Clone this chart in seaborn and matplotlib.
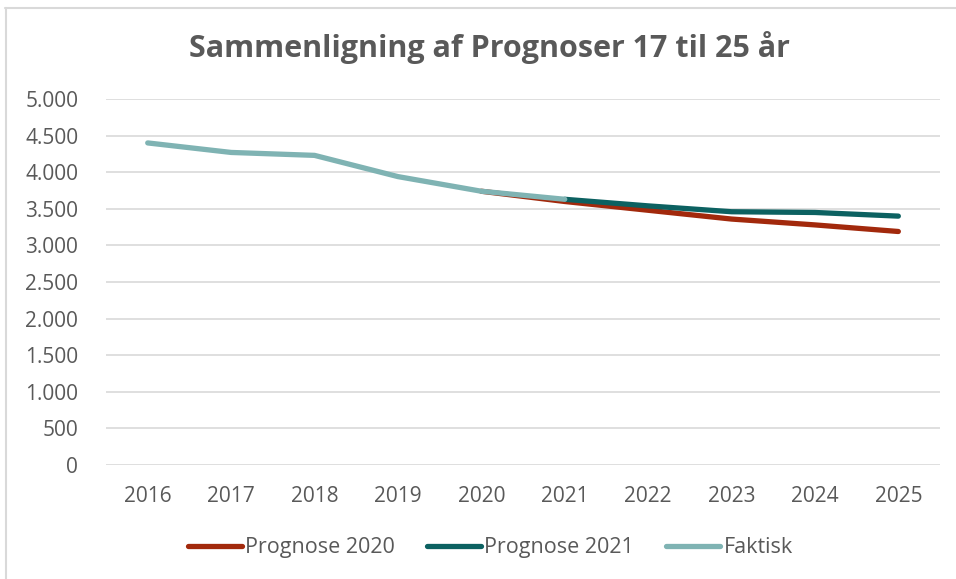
import pandas as pd
import matplotlib
matplotlib.use("Agg")
import matplotlib.pyplot as plt
import seaborn as sns
from matplotlib.ticker import FuncFormatter
from matplotlib.lines import Line2D

# -------------------------------
# Data
# -------------------------------
years = [2016, 2017, 2018, 2019, 2020, 2021, 2022, 2023, 2024, 2025]
faktisk = [4400, 4270, 4230, 3940, 3740, 3630, None, None, None, None]
prognose_2020 = [None, None, None, None, 3740, 3600, 3480, 3360, 3280, 3190]
prognose_2021 = [None, None, None, None, None, 3630, 3540, 3460, 3450, 3400]

series_names = ["Prognose 2020", "Prognose 2021", "Faktisk"]
colors = {"Prognose 2020": "#A2290C", "Prognose 2021": "#0C6161", "Faktisk": "#7FB3B3"}

rows = []
for name, vals in zip(series_names, [prognose_2020, prognose_2021, faktisk]):
    for y, v in zip(years, vals):
        if v is not None:
            rows.append({"year": y, "value": v, "serie": name})
df = pd.DataFrame(rows)

# -------------------------------
# Plot
# -------------------------------
sns.set_theme(style="white")
plt.rcParams["font.family"] = ["Open Sans", "DejaVu Sans"]
text_col = "#595959"

fig = plt.figure(figsize=(9.56, 5.79), dpi=100)
ax = fig.add_axes([0.1109, 0.1969, 0.8724, 0.6321])

sns.lineplot(data=df, x="year", y="value", hue="serie", hue_order=series_names,
             palette=colors, linewidth=3.8, ax=ax, legend=False,
             solid_capstyle="round")

ax.set_xlim(2015.5, 2025.5)
ax.set_ylim(0, 5000)
ax.set_yticks(range(0, 5001, 500))
ax.set_xticks(years)
ax.yaxis.set_major_formatter(FuncFormatter(lambda v, p: f"{int(v):,}".replace(",", ".")))
ax.grid(axis="y", color="#D9D9D9", linewidth=1.2)
ax.set_axisbelow(True)
for s in ax.spines.values():
    s.set_visible(False)
ax.tick_params(axis="both", length=0, labelsize=15, labelcolor=text_col)
ax.tick_params(axis="x", pad=15)
ax.tick_params(axis="y", pad=20)
ax.set_xlabel("")
ax.set_ylabel("")

fig.text(0.512, 0.918, "Sammenligning af Prognoser 17 til 25 år", ha="center", va="center",
         fontsize=22, fontweight="bold", color=text_col)

handles = [Line2D([], [], color=colors[n], linewidth=3.8, solid_capstyle="round") for n in series_names]
leg = fig.legend(handles, series_names, loc="center", bbox_to_anchor=(0.513, 0.054), ncol=3,
                 frameon=False, fontsize=15.5, handlelength=2.5, handletextpad=0.15,
                 columnspacing=1.5)
for t in leg.get_texts():
    t.set_color(text_col)

# light chart border (top and left, like the cropped screenshot)
fig.add_artist(Line2D([0.005, 1.0], [0.986, 0.986], color="#D9D9D9", linewidth=1.5, transform=fig.transFigure))
fig.add_artist(Line2D([0.006, 0.006], [0.0, 0.986], color="#D9D9D9", linewidth=1.5, transform=fig.transFigure))

plt.savefig("out.png", dpi=100, facecolor="white")
